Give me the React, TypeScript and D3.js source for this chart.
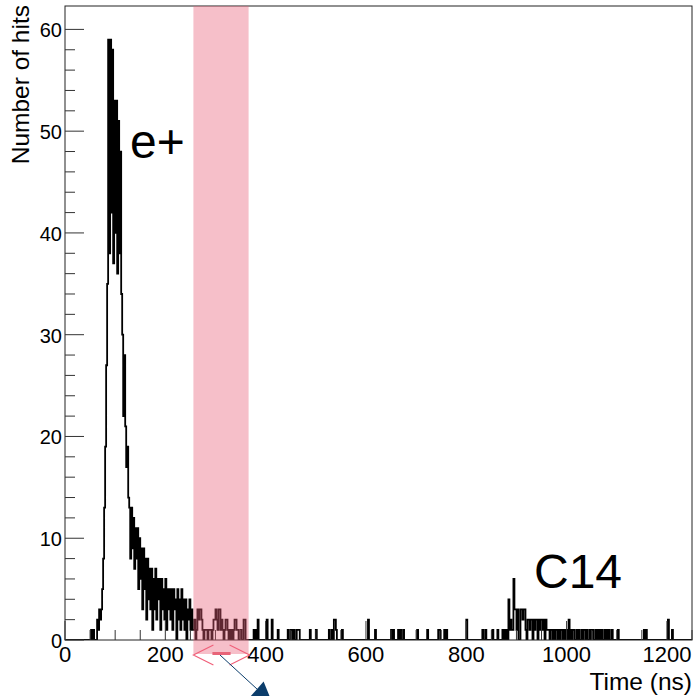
import React from 'react';
import * as d3 from 'd3';

// Histogram of hit times, 2 ns bins
const binWidth = 2;
const xDomain = [0, 1250];
const yDomain = [0, 62.3];

// dense region: e+ peak and tail, bins starting at 50 ns
const peakStart = 50;
const peakCounts = [
  0, 1, 0, 1, 0, 0, 0, 2, 1, 3,
  2, 3, 5, 8, 13, 19, 27, 35, 59, 38,
  59, 42, 58, 37, 53, 40, 53, 36, 51, 38,
  48, 34, 30, 22, 28, 21, 17, 19, 14, 13,
  8, 13, 9, 12, 7, 11, 8, 11, 5, 10,
  6, 9, 3, 9, 5, 8, 2, 8, 4, 7,
  3, 7, 1, 6, 3, 7, 2, 6, 4, 6,
  1, 6, 3, 5, 2, 6, 1, 5, 3, 5,
  2, 5, 1, 5, 3, 4, 0, 5, 2, 4,
  1, 5, 2, 4, 1, 4, 0, 3, 2, 4,
  1, 3, 1,
];

// selected time window (shaded), bins starting at 256 ns
const windowRange = [256, 366];
const windowCounts = [
  1, 2, 0, 1, 3, 2, 3, 3, 2, 1,
  0, 1, 1, 1, 0, 1, 1, 1, 0, 1,
  2, 2, 3, 2, 1, 3, 3, 1, 2, 1,
  0, 1, 2, 2, 1, 0, 1, 0, 1, 0,
  1, 2, 2, 1, 1, 0, 0, 1, 0, 0,
  2, 2, 0, 0, 0, 0,
];

// sparse late hits (bin start in ns, count)
const lateTimes = [
  376, 380, 384, 402, 412, 424, 444, 450, 452, 456, 462, 464, 466, 488, 500,
  526, 532, 536, 538, 540, 552, 604, 618, 650, 654, 664, 668, 674, 702, 722,
  744, 746, 756, 760, 800, 832, 838, 852, 862, 872, 876, 880,
  884, 886, 888, 890, 892, 894, 896, 898, 900, 902, 908, 910, 912, 914, 916,
  918, 922, 924, 926, 928, 930, 934, 936, 938, 940, 944, 946, 948, 950, 952,
  954, 958, 960, 962, 964, 968, 970, 974, 978, 980, 984, 988, 990, 994, 998,
  1000, 1004, 1008, 1012, 1014, 1020, 1024, 1030, 1034, 1036, 1040, 1046,
  1050, 1052, 1058, 1062, 1066, 1070, 1076, 1080, 1084, 1090, 1102, 1154,
  1158, 1202, 1210,
];
const lateCounts = [
  1, 1, 2, 2, 2, 1, 1, 1, 1, 1, 1, 1, 1, 1, 1,
  1, 1, 2, 2, 1, 1, 2, 1, 1, 1, 1, 1, 1, 1, 1,
  1, 1, 1, 1, 2, 1, 1, 1, 1, 1, 1, 1,
  4, 1, 2, 1, 1, 6, 3, 3, 1, 3, 3, 3, 2, 3, 3,
  1, 2, 2, 1, 2, 2, 2, 1, 2, 2, 2, 1, 2, 2, 1,
  2, 2, 1, 1, 1, 1, 1, 1, 1, 1, 1, 1, 1, 1, 1,
  1, 2, 1, 1, 1, 1, 1, 1, 1, 1, 1, 1,
  1, 1, 1, 1, 1, 1, 1, 1, 1, 1, 1, 1,
  1, 2, 1,
];

const xTicks = [0, 200, 400, 600, 800, 1000, 1200];
const yTicks = [0, 10, 20, 30, 40, 50, 60];

const W = 696;
const H = 696;
const M = { left: 65, right: 4, top: 6, bottom: 56 };
const FONT = '"Liberation Sans", Arial, Helvetica, sans-serif';

function buildBins(): number[] {
  const n = Math.ceil(xDomain[1] / binWidth);
  const bins = new Array(n).fill(0);
  peakCounts.forEach((c, i) => {
    bins[Math.round((peakStart + i * binWidth) / binWidth)] = c;
  });
  windowCounts.forEach((c, i) => {
    bins[Math.round((windowRange[0] + i * binWidth) / binWidth)] = c;
  });
  lateTimes.forEach((t, i) => {
    bins[Math.round(t / binWidth)] = lateCounts[i];
  });
  return bins;
}

export default function App() {
  const x = d3.scaleLinear().domain(xDomain).range([M.left, W - M.right]);
  const y = d3.scaleLinear().domain(yDomain).range([H - M.bottom, M.top]);
  const bins = buildBins();
  const pts: [number, number][] = bins.map((c, i) => [i * binWidth, c]);
  pts.push([bins.length * binWidth, bins[bins.length - 1]]);
  const line = d3
    .line<[number, number]>()
    .x((d) => x(d[0]))
    .y((d) => y(d[1]))
    .curve(d3.curveStepAfter);
  const path = line(pts) || '';

  const x0 = x.range()[0];
  const x1 = x.range()[1];
  const yb = y(0);
  const yt = y.range()[1];

  const xMinor = d3.range(0, xDomain[1] + 1, 50).filter((v) => v % 200 !== 0);
  const yMinor = d3.range(0, 62, 2).filter((v) => v % 10 !== 0);

  const wx0 = x(windowRange[0]);
  const wx1 = x(windowRange[1]);
  const arrowY = yb + 15;
  const redC = '#f0607a';

  // navy pointer arrow
  const ax0 = (wx0 + wx1) / 2 - 1;
  const ay0 = arrowY;
  const dirx = 0.75;
  const diry = 0.66;
  const bx = ax0 + 37;
  const by = ay0 + 34;
  const px = -diry;
  const py = dirx;
  const tipx = bx + 20 * dirx;
  const tipy = by + 20 * diry;

  return (
    <svg
      width={W}
      height={H}
      style={{ position: 'absolute', left: 0, top: 0, background: '#fff' }}
      fontFamily={FONT}
    >
      <rect x={0} y={0} width={W} height={H} fill="#fff" />
      <defs>
        <clipPath id="plotclip">
          <rect x={x0} y={yt} width={x1 - x0} height={yb - yt} />
        </clipPath>
      </defs>
      <path d={path} fill="none" stroke="#000" strokeWidth={1.8} clipPath="url(#plotclip)" />

      {/* frame */}
      <rect x={x0} y={yt} width={x1 - x0} height={yb - yt} fill="none" stroke="#222" strokeWidth={1} />

      {/* y ticks */}
      {yTicks.map((v) => (
        <g key={'yt' + v}>
          <line x1={x0} x2={x0 + 19} y1={y(v)} y2={y(v)} stroke="#333" strokeWidth={1} />
          <text x={x0 - 3} y={y(v) + 1} textAnchor="end" dominantBaseline="central" fontSize={20} fill="#000">
            {v}
          </text>
        </g>
      ))}
      {yMinor.map((v) => (
        <line key={'ym' + v} x1={x0} x2={x0 + 10} y1={y(v)} y2={y(v)} stroke="#333" strokeWidth={1} />
      ))}

      {/* x ticks */}
      {xTicks.map((v) => (
        <g key={'xt' + v}>
          <line x1={x(v)} x2={x(v)} y1={yb} y2={yb - 19} stroke="#333" strokeWidth={1} />
          <text x={x(v)} y={yb + 22} textAnchor="middle" fontSize={22} fill="#000">
            {v}
          </text>
        </g>
      ))}
      {xMinor.map((v) => (
        <line key={'xm' + v} x1={x(v)} x2={x(v)} y1={yb} y2={yb - 10} stroke="#333" strokeWidth={1} />
      ))}

      {/* shaded window */}
      <rect x={wx0} y={yt} width={wx1 - wx0} height={yb + 14 - yt} fill="rgb(232,96,120)" fillOpacity={0.4} />

      {/* window markers */}
      <polyline
        points={`${wx0 + 20},${arrowY - 10} ${wx0},${arrowY} ${wx0 + 20},${arrowY + 10}`}
        fill="none"
        stroke={redC}
        strokeWidth={1.2}
      />
      <polyline
        points={`${wx1 - 19},${arrowY - 10} ${wx1 + 1},${arrowY} ${wx1 - 19},${arrowY + 10}`}
        fill="none"
        stroke={redC}
        strokeWidth={1.2}
      />
      <line x1={wx0 + 19} x2={wx1 - 18} y1={arrowY - 1.5} y2={arrowY - 1.5} stroke="#e86478" strokeWidth={3} />

      <line x1={ax0} y1={ay0} x2={bx} y2={by} stroke="#0b3d6b" strokeWidth={1} />
      <polygon
        points={`${bx + px * 10},${by + py * 10} ${bx - px * 10},${by - py * 10} ${tipx},${tipy}`}
        fill="#0b3d6b"
      />

      {/* annotations */}
      <text x={130} y={158} fontSize={48} fill="#000">e+</text>
      <text x={534} y={588} fontSize={48} fill="#000">C14</text>

      {/* axis titles */}
      <text x={x1} y={690} textAnchor="end" fontSize={24.5} fill="#000">Time (ns)</text>
      <text
        transform={`translate(29, ${yt - 1}) rotate(-90)`}
        textAnchor="end"
        fontSize={24.5}
        fill="#000"
      >
        Number of hits
      </text>
    </svg>
  );
}
